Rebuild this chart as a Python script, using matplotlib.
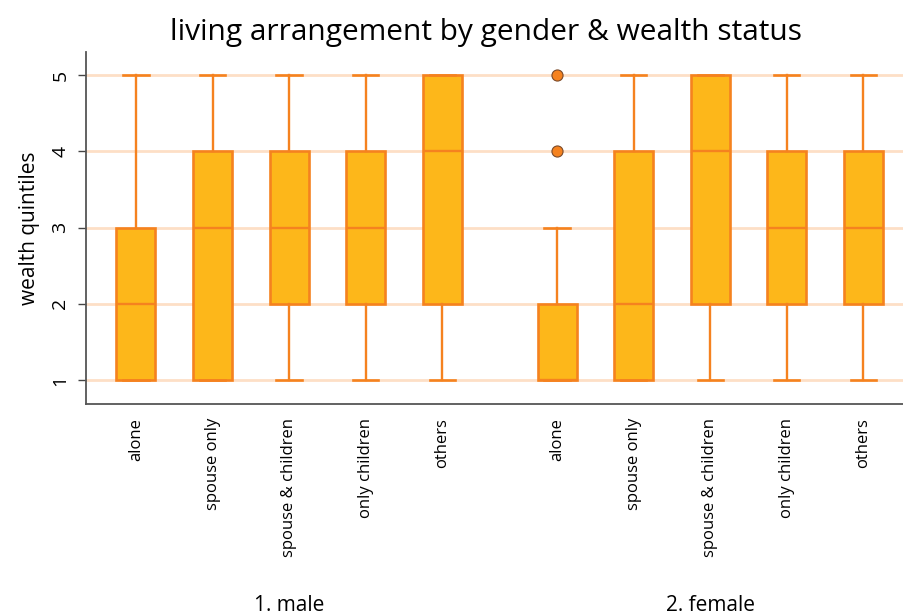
import matplotlib.pyplot as plt
from matplotlib.transforms import blended_transform_factory

plt.rcParams['font.family'] = ['Open Sans', 'DejaVu Sans']

# data
categories = ['alone', 'spouse only', 'spouse & children', 'only children', 'others']
groups = ['1. male', '2. female']

male_lo = [1, 1, 1, 1, 1]
male_q1 = [1, 1, 2, 2, 2]
male_med = [2, 3, 3, 3, 4]
male_q3 = [3, 4, 4, 4, 5]
male_hi = [5, 5, 5, 5, 5]
male_out = [[], [], [], [], []]

female_lo = [1, 1, 1, 1, 1]
female_q1 = [1, 1, 2, 2, 2]
female_med = [1, 2, 4, 3, 3]
female_q3 = [2, 4, 5, 4, 4]
female_hi = [3, 5, 5, 5, 5]
female_out = [[4, 5], [], [], [], []]

fill = '#FDB71A'
edge = '#F5821F'
grid = '#FDDFC6'


def make_stats(lo, q1, med, q3, hi, out):
    return [dict(whislo=a, q1=b, med=c, q3=d, whishi=e, fliers=f)
            for a, b, c, d, e, f in zip(lo, q1, med, q3, hi, out)]


stats = make_stats(male_lo, male_q1, male_med, male_q3, male_hi, male_out) + \
    make_stats(female_lo, female_q1, female_med, female_q3, female_hi, female_out)
positions = [1, 2, 3, 4, 5, 6.5, 7.5, 8.5, 9.5, 10.5]

fig = plt.figure(figsize=(9.04, 6.15), dpi=100)
ax = fig.add_axes([0.0951, 0.343, 0.904, 0.572])

for y in [1, 2, 3, 4, 5]:
    ax.axhline(y, color=grid, lw=2, zorder=0)

ax.bxp(stats, positions=positions, widths=0.51, patch_artist=True,
       showfliers=True,
       boxprops=dict(facecolor=fill, edgecolor=edge, linewidth=1.9),
       medianprops=dict(color=edge, linewidth=1.7),
       whiskerprops=dict(color=edge, linewidth=1.7),
       capprops=dict(color=edge, linewidth=1.9),
       capwidths=0.33,
       flierprops=dict(marker='o', markerfacecolor=edge, markeredgecolor='#7a4a2a',
                       markersize=8, markeredgewidth=0.8))

ax.set_xlim(0.347, 11.02)
ax.set_ylim(0.685, 5.3)
ax.set_yticks([1, 2, 3, 4, 5])
ax.tick_params(axis='y', labelsize=14, length=6, width=1, color='#444444',
               labelrotation=90, pad=6)
for t in ax.get_yticklabels():
    t.set_va('center')
ax.set_xticks(positions)
ax.set_xticklabels(categories * 2, rotation=90, fontsize=12)
ax.tick_params(axis='x', length=0, pad=10)

for s in ['top', 'right']:
    ax.spines[s].set_visible(False)
for s in ['left', 'bottom']:
    ax.spines[s].set_color('#555555')
    ax.spines[s].set_linewidth(1.3)

ax.set_ylabel('wealth quintiles', fontsize=15, labelpad=8)
ax.set_title('living arrangement by gender & wealth status', fontsize=21.5, pad=9, x=0.49)

# group labels under each set of boxes
trans = blended_transform_factory(ax.transData, fig.transFigure)
ax.text(3, 0.016, groups[0], transform=trans, ha='center', va='center', fontsize=15)
ax.text(8.5, 0.016, groups[1], transform=trans, ha='center', va='center', fontsize=15)

fig.savefig('out.png', dpi=100)
